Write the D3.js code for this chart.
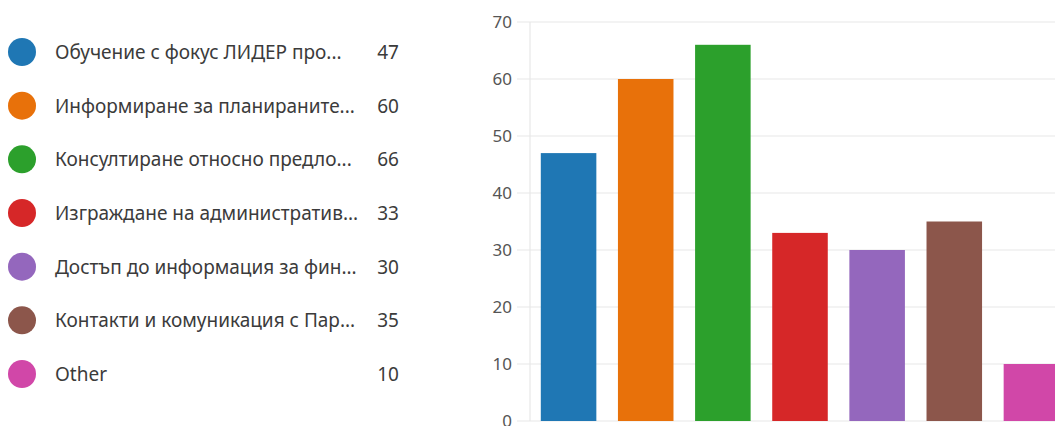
<!DOCTYPE html>
<html><head><meta charset="utf-8">
<script src="https://cdn.jsdelivr.net/npm/d3@7"></script>
<style>
html,body{margin:0;padding:0;background:#fff;overflow:hidden;}
svg{display:block;}
text{font-family:"Noto Sans","Open Sans",sans-serif;}
</style></head>
<body>
<script>
const categories = [
  "Обучение с фокус ЛИДЕР про...",
  "Информиране за планираните...",
  "Консултиране относно предло...",
  "Изграждане на административ...",
  "Достъп до информация за фин...",
  "Контакти и комуникация с Пар...",
  "Other"
];
const values = [47, 60, 66, 33, 30, 35, 10];
const colors = ["#1f77b4", "#e8710a", "#2ca02c", "#d62728", "#9467bd", "#8c564b", "#d147a8"];
const yTicks = [0, 10, 20, 30, 40, 50, 60, 70];

const W = 1055, H = 426;
const svg = d3.select("body").append("svg").attr("width", W).attr("height", H);

// Legend
const legendY = d3.scalePoint().domain(d3.range(categories.length)).range([52, 374]);
const lg = svg.append("g");
const items = lg.selectAll("g").data(categories).join("g")
  .attr("transform", (d, i) => `translate(0,${legendY(i)})`);
items.append("circle").attr("cx", 22).attr("cy", 0).attr("r", 14)
  .attr("fill", (d, i) => colors[i]);
items.append("text").attr("x", 55).attr("y", 0).attr("dy", "0.36em")
  .attr("font-size", 19).attr("fill", "#3b3b3b").text(d => d);
items.append("text").attr("x", 399).attr("y", 0).attr("dy", "0.36em")
  .attr("text-anchor", "end").attr("font-size", 19).attr("fill", "#3b3b3b")
  .text((d, i) => values[i]);

// Chart
const x = d3.scaleBand().domain(categories).range([530, 1070])
  .paddingInner(0.28).paddingOuter(0.14);
const y = d3.scaleLinear().domain([0, 70]).range([421, 22]);

const grid = svg.append("g");
grid.selectAll("line").data(yTicks).join("line")
  .attr("x1", 517).attr("x2", W).attr("y1", d => y(d)).attr("y2", d => y(d))
  .attr("stroke", "#e8e8e8").attr("stroke-width", 1.2);
svg.append("line").attr("x1", 530).attr("x2", 530).attr("y1", y(70)).attr("y2", y(0))
  .attr("stroke", "#e8e8e8").attr("stroke-width", 1.2);

const yAxis = d3.axisLeft(y).tickValues(yTicks).tickSize(0).tickPadding(0);
const ya = svg.append("g").attr("transform", "translate(512,0)").call(yAxis);
ya.select(".domain").remove();
ya.selectAll("text").attr("font-size", 17).attr("fill", "#555")
  .style("font-family", '"Noto Sans","Open Sans",sans-serif');

svg.append("g").selectAll("rect").data(categories).join("rect")
  .attr("x", d => x(d)).attr("width", x.bandwidth())
  .attr("y", (d, i) => y(values[i])).attr("height", (d, i) => y(0) - y(values[i]))
  .attr("fill", (d, i) => colors[i]);
</script>
</body></html>
